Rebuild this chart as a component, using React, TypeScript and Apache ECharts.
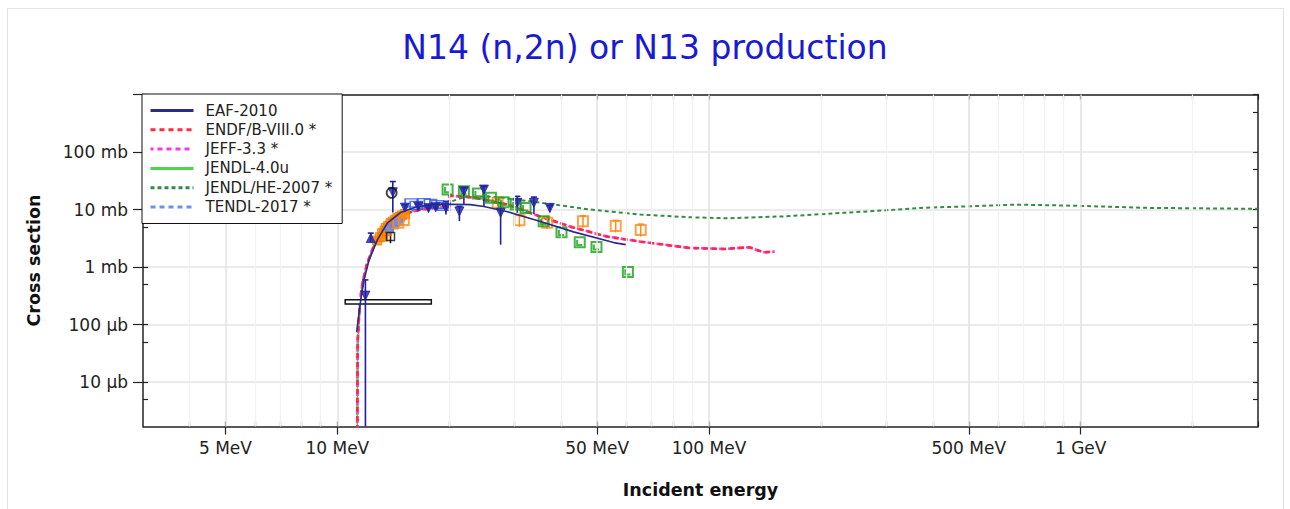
import React, { useEffect, useRef } from "react";
import * as echarts from "echarts";

// ---------- axes ----------
const xMin = 3;
const xMax = 3000;
const yMin = 0.0017;
const yMax = 1000;
const xLabelTicks = [5, 10, 50, 100, 500, 1000];
const xMinorTicks = [4, 6, 7, 8, 9, 20, 30, 40, 60, 70, 80, 90, 200, 300, 400, 600, 700, 800, 900, 2000, 3000];
const yLabelTicks = [0.01, 0.1, 1, 10, 100, 1000];
const yMinorTicks = [0.005, 0.05, 0.5, 5, 50, 500];

// ---------- evaluated curves: [MeV, mb] ----------
const eaf2010 = [
  [11.27, 0.075], [11.56, 0.27], [11.8, 0.6], [12.18, 1.35], [12.82, 3.0], [13.65, 5.9],
  [14.8, 8.9], [16.06, 10.8], [17.8, 12.2], [20, 12.4], [22.8, 12.2], [24.8, 11.3],
  [28.7, 9.2], [35.2, 6.2], [43.2, 4.1], [55.4, 2.67], [59.7, 2.46],
];
const endf80 = [
  [11.31, 0.0005], [11.34, 0.05], [11.5, 0.25], [11.7, 0.55], [12.0, 1.1], [12.5, 2.2],
  [13.0, 3.5], [13.5, 4.9], [14.0, 6.2], [15.0, 8.1], [16.0, 9.3], [17.0, 10.1], [18.0, 10.6],
  [19.0, 10.9], [20.0, 11.0], [20.0, 17.5], [23.3, 16.2], [28.7, 12.2], [35.2, 7.55],
  [43.2, 4.86], [53.3, 3.39], [65.4, 2.77], [89, 2.15], [110, 2.07], [128.5, 2.21],
  [140, 1.81], [150, 1.86],
];
const jeff33 = [
  [11.31, 0.0005], [11.34, 0.05], [11.5, 0.25], [11.7, 0.55], [12.0, 1.1], [12.5, 2.2],
  [13.0, 3.5], [13.5, 4.9], [14.0, 6.2], [15.0, 8.1], [16.0, 9.3], [17.0, 10.1], [18.0, 10.6],
  [19.0, 10.9], [20.0, 11.0], [20.0, 17.5], [23.3, 16.2], [28.7, 12.2], [35.2, 7.55],
  [43.2, 4.86], [53.3, 3.39], [65.4, 2.77], [89, 2.15], [110, 2.07], [128.5, 2.21],
  [140, 1.81], [150, 1.86],
];
const jendl40u = [
  [11.31, 0.0005], [11.34, 0.04], [11.5, 0.22], [11.7, 0.5], [12.0, 1.05], [12.5, 2.1],
  [13.0, 3.4], [14.0, 6.0], [15.0, 8.0], [16.0, 9.4], [17.0, 10.3], [18.0, 10.8], [20.0, 11.2],
];
const jendlHe2007 = [
  [11.31, 0.0005], [11.34, 0.045], [11.5, 0.24], [11.7, 0.55], [12.0, 1.1], [12.5, 2.2],
  [13.0, 3.5], [14.0, 6.1], [15.0, 8.2], [16.0, 9.6], [17.0, 10.5], [18.0, 11.0], [20.0, 13.5],
  [22.0, 16.5], [25.0, 17.0], [27.5, 16.2], [35.2, 13.2], [48, 10.0], [65.4, 8.2], [89, 7.35],
  [112.7, 7.06], [161.5, 7.65], [229.6, 8.77], [290.8, 9.6], [369, 10.7], [501, 11.4],
  [666, 12.2], [948, 11.7], [1527, 10.7], [3000, 10.3],
];
const tendl2017 = [
  [11.31, 0.0005], [11.35, 0.06], [11.5, 0.26], [12.0, 1.15], [12.5, 2.3], [13.0, 3.6],
  [14.0, 6.3], [15.0, 8.3], [16.0, 9.6], [17.0, 10.4], [18.0, 10.9], [20.0, 11.3],
];

// ---------- experimental data: [MeV, mb, low, high] ----------
const expNavyDown = [
  [11.9, 0.32, 0.0001, 0.6], [14.1, 20.0, 8.9, 30.7], [15.2, 10.8, 9.6, 12.2],
  [16.5, 11.3, 10.2, 12.5], [17.6, 10.6, 9.6, 11.8], [18.4, 11.0, 9.8, 12.3],
  [19.6, 10.7, 8.2, 13.9], [21.3, 9.3, 6.3, 11.4], [21.9, 20.8, 12.2, 23.8],
  [24.8, 22.3, 11.4, 25.4], [27.5, 8.8, 2.46, 13.1], [30.5, 13.1, 8.8, 17.0],
  [33.8, 13.1, 8.3, 16.5], [37.3, 10.7, 9.0, 11.7],
];
const expNavyUp = [[12.3, 3.2, 2.7, 3.9]];
const expBlack = [[13.9, 3.4, 2.6, 4.3]];
const expBlackCircle = [[14.0, 19.6]];
const expOrangeFilled = [
  [12.8, 2.9], [13.0, 3.3], [13.2, 3.9], [13.4, 4.3], [13.5, 4.8], [13.7, 5.2], [13.9, 5.8],
  [14.1, 6.2], [14.3, 6.6], [14.5, 7.1], [14.7, 7.5], [14.9, 7.9], [15.2, 8.4],
  [13.3, 3.4], [13.6, 4.2], [14.2, 5.5],
];
const expOrangeOpen = [
  [27.0, 13.1, 11.5, 15.0], [30.9, 6.5, 5.0, 8.2], [36.7, 5.9, 4.6, 7.5],
  [45.8, 6.26, 4.9, 7.8], [56.1, 5.16, 4.0, 6.5], [65.5, 4.43, 3.4, 5.6],
  [14.6, 5.9, 5.3, 6.5], [15.1, 6.6, 6.0, 7.2],
];
const expBlueOpen = [[15.8, 13.1], [16.3, 11.8], [17.1, 13.2], [17.8, 12.8], [18.6, 12.2], [19.3, 11.4]];
const expCornflower = [[13.8, 4.6], [14.3, 5.8], [14.6, 6.2]];
const expGreen = [
  [19.8, 22.3], [21.9, 20.8], [23.9, 19.0], [25.9, 16.0], [28.0, 13.4], [30.2, 12.2],
  [32.1, 10.7], [35.9, 6.26], [40.1, 4.03], [44.9, 2.7], [49.8, 2.24], [60.5, 0.825],
];
// [E low, E high, sigma low, sigma high]
const expBox = [[10.5, 17.9, 0.229, 0.272]];

const curveNames = ["EAF-2010", "ENDF/B-VIII.0 *", "JEFF-3.3 *", "JENDL-4.0u", "JENDL/HE-2007 *", "TENDL-2017 *"];

const FONT = "DejaVu Sans";
const GREEN_SYMBOL = "path://M0 0 H10 V10 H0 Z M2.4 2.4 V7.6 H7.6";

function errorBars(data: number[][], color: string, width = 1.5) {
  return {
    type: "custom",
    silent: true,
    data,
    encode: { x: 0, y: 1 },
    z: 3,
    renderItem: (params: any, api: any) => {
      const cs = params.coordSys;
      const lo = api.coord([api.value(0), api.value(2)]);
      const hi = api.coord([api.value(0), api.value(3)]);
      const x = lo[0];
      const y1 = Math.max(hi[1], cs.y);
      const y2 = Math.min(lo[1], cs.y + cs.height);
      const children: any[] = [
        { type: "line", shape: { x1: x, y1, x2: x, y2 }, style: { stroke: color, lineWidth: width } },
      ];
      if (hi[1] >= cs.y) {
        children.push({ type: "line", shape: { x1: x - 3, y1: hi[1], x2: x + 3, y2: hi[1] }, style: { stroke: color, lineWidth: width } });
      }
      return { type: "group", children };
    },
  };
}

function scatter(data: number[][], symbol: string, size: any, color: string, border: string, bw: number, rotate = 0) {
  return {
    type: "scatter",
    silent: true,
    data: data.map((d) => [d[0], d[1]]),
    symbol,
    symbolSize: size,
    symbolRotate: rotate,
    itemStyle: { color, borderColor: border, borderWidth: bw },
    z: 4,
  };
}

function curve(name: string, data: number[][], color: string, width: number, type: any, dashOffset = 0, z = 2) {
  return {
    name,
    type: "line",
    data,
    showSymbol: false,
    symbol: "none",
    silent: true,
    z,
    lineStyle: { color, width, type, dashOffset },
    itemStyle: { color },
  };
}

const xLabel = (v: number) => {
  if (v >= 1000) return `${Math.round(v / 1000)} GeV`;
  return `${Math.round(v)} MeV`;
};
const yLabel = (v: number) => {
  if (v >= 1000) return "";
  if (v >= 1) return `${Math.round(v)} mb`;
  return `${Math.round(v * 1000)} µb`;
};

export default function App() {
  const ref = useRef<HTMLDivElement>(null);
  useEffect(() => {
    if (!ref.current) return;
    const chart = echarts.init(ref.current, null, { renderer: "svg" });
    const axisLineStyle = { color: "#222", width: 1.5 };
    const baseX = { type: "log", min: xMin, max: xMax, logBase: 10, splitLine: { show: false } };
    const baseY = { type: "log", min: yMin, max: yMax, logBase: 10 };
    const gridMajor = xLabelTicks.map((v) => ({ xAxis: v }));
    const gridMinor = xMinorTicks.filter((v) => v < xMax).map((v) => ({ xAxis: v }));
    const option: any = {
      animation: false,
      backgroundColor: "#fff",
      textStyle: { fontFamily: FONT },
      title: {
        text: "N14 (n,2n) or N13 production",
        left: "center",
        top: 31,
        padding: 0,
        textStyle: { fontFamily: FONT, fontSize: 33, fontWeight: "normal", color: "#1a1ad2" },
      },
      graphic: [
        {
          type: "rect",
          silent: true,
          z: -10,
          shape: { x: 7.5, y: 8.5, width: 1276, height: 520 },
          style: { fill: "none", stroke: "#e2e2e2", lineWidth: 1 },
        },
      ],
      legend: {
        data: curveNames,
        orient: "vertical",
        left: 142,
        top: 94,
        padding: [9, 10, 9, 7],
        itemWidth: 43,
        itemHeight: 15,
        itemGap: 4.3,
        backgroundColor: "#fff",
        borderColor: "#111",
        borderWidth: 1,
        borderRadius: 0,
        selectedMode: false,
        itemStyle: { opacity: 0, borderWidth: 0 },
        lineStyle: { width: 3 },
        textStyle: { fontFamily: FONT, fontSize: 15, color: "#222", padding: [0, 0, 0, 7], lineHeight: 15 },
        z: 20,
      },
      grid: { left: 143, right: 32, top: 94.5, bottom: 82.5, containLabel: false },
      xAxis: [
        {
          ...baseX,
          position: "bottom",
          name: "Incident energy",
          nameLocation: "middle",
          nameGap: 54,
          nameTextStyle: { fontFamily: FONT, fontSize: 17.5, fontWeight: "bold", color: "#111" },
          axisLine: { show: true, onZero: false, lineStyle: axisLineStyle },
          axisTick: { show: true, inside: false, length: 8, customValues: xLabelTicks, lineStyle: { color: "#222", width: 1.2 } },
          axisLabel: { show: true, customValues: xLabelTicks, formatter: xLabel, margin: 13, fontSize: 17, color: "#222", fontFamily: FONT },
        },
        {
          ...baseX,
          position: "bottom",
          axisLine: { show: false, onZero: false },
          axisTick: { show: true, inside: true, length: 5, customValues: [...xLabelTicks, ...xMinorTicks], lineStyle: { color: "#222", width: 1.2 } },
          axisLabel: { show: false },
        },
        {
          ...baseX,
          position: "top",
          axisLine: { show: true, onZero: false, lineStyle: axisLineStyle },
          axisTick: { show: true, inside: true, length: 5, customValues: [...xLabelTicks, ...xMinorTicks], lineStyle: { color: "#222", width: 1.2 } },
          axisLabel: { show: false },
        },
      ],
      yAxis: [
        {
          ...baseY,
          position: "left",
          name: "Cross section",
          nameLocation: "middle",
          nameRotate: 90,
          nameGap: 100,
          nameTextStyle: { fontFamily: FONT, fontSize: 17.5, fontWeight: "bold", color: "#111" },
          axisLine: { show: true, onZero: false, lineStyle: axisLineStyle },
          axisTick: { show: true, inside: false, length: 10, customValues: yLabelTicks, lineStyle: { color: "#222", width: 1.2 } },
          axisLabel: { show: true, customValues: yLabelTicks.filter((v) => v < yMax), formatter: yLabel, margin: 15, fontSize: 17, color: "#222", fontFamily: FONT },
          splitLine: { show: true, lineStyle: { color: "#e4e4e4", width: 1.5 } },
        },
        {
          ...baseY,
          position: "left",
          axisLine: { show: false, onZero: false },
          axisTick: { show: true, inside: true, length: 5, customValues: [...yLabelTicks, ...yMinorTicks], lineStyle: { color: "#222", width: 1.2 } },
          axisLabel: { show: false },
          splitLine: { show: false },
        },
        {
          ...baseY,
          position: "right",
          axisLine: { show: true, onZero: false, lineStyle: axisLineStyle },
          axisTick: { show: true, inside: true, length: 5, customValues: [...yLabelTicks, ...yMinorTicks], lineStyle: { color: "#222", width: 1.2 } },
          axisLabel: { show: false },
          splitLine: { show: false },
        },
      ],
      series: [
        {
          type: "line",
          data: [],
          silent: true,
          z: 1,
          markLine: {
            silent: true,
            symbol: "none",
            label: { show: false },
            animation: false,
            data: [
              ...gridMinor.map((d) => ({ ...d, lineStyle: { color: "#f2f2f2", width: 1.2, type: "solid" } })),
              ...gridMajor.map((d) => ({ ...d, lineStyle: { color: "#e2e2e2", width: 1.5, type: "solid" } })),
            ],
          },
        },
        curve("JENDL/HE-2007 *", jendlHe2007, "#358c45", 2, [4, 3]),
        curve("JENDL-4.0u", jendl40u, "#4cd64c", 1.6, "solid"),
        curve("TENDL-2017 *", tendl2017, "#6a93ec", 2, [5, 4]),
        curve("JEFF-3.3 *", jeff33, "#ff33ee", 2.6, [5, 4], 2),
        curve("ENDF/B-VIII.0 *", endf80, "#ff2a3a", 2.6, [5, 4], 0),
        {
          type: "custom",
          silent: true,
          data: expBox,
          encode: { x: [0, 1], y: [2, 3] },
          z: 3,
          renderItem: (params: any, api: any) => {
            const a = api.coord([api.value(0), api.value(3)]);
            const b = api.coord([api.value(1), api.value(2)]);
            return {
              type: "rect",
              shape: { x: a[0], y: a[1], width: b[0] - a[0], height: b[1] - a[1] },
              style: { fill: "#fff", stroke: "#111", lineWidth: 1.5 },
            };
          },
        },
        scatter(expOrangeFilled, "rect", 9, "#ff8a00", "#f07800", 1),
        scatter(expCornflower, "rect", 8, "#6f8ff0", "#5a7ae0", 1),
        scatter(expBlueOpen, "rect", [12, 8], "transparent", "#3050f0", 1.5),
        errorBars(expOrangeOpen, "#ff8a1a", 1.5),
        scatter(expOrangeOpen, "rect", 10, "transparent", "#ff8a1a", 2),
        scatter(expGreen, GREEN_SYMBOL, 10, "transparent", "#16a016", 2),
        errorBars(expBlack, "#111", 1.5),
        scatter(expBlack, "rect", 8, "transparent", "#111", 1.5),
        errorBars(expNavyDown, "#1f1fa6", 1.6),
        scatter(expNavyDown, "triangle", 9, "#1f1fa6", "#1f1fa6", 1, 180),
        errorBars(expNavyUp, "#1f1fa6", 1.6),
        scatter(expNavyUp, "triangle", 9, "#1f1fa6", "#1f1fa6", 1),
        scatter(expBlackCircle, "circle", 10, "transparent", "#111", 1.8),
        curve("EAF-2010", eaf2010, "#2a2a88", 1.6, "solid", 0, 5),
      ],
    };
    chart.setOption(option);
    return () => chart.dispose();
  }, []);
  return (
    <div
      ref={ref}
      style={{ position: "fixed", left: 0, top: 0, width: 1290, height: 509, background: "#fff" }}
    />
  );
}
